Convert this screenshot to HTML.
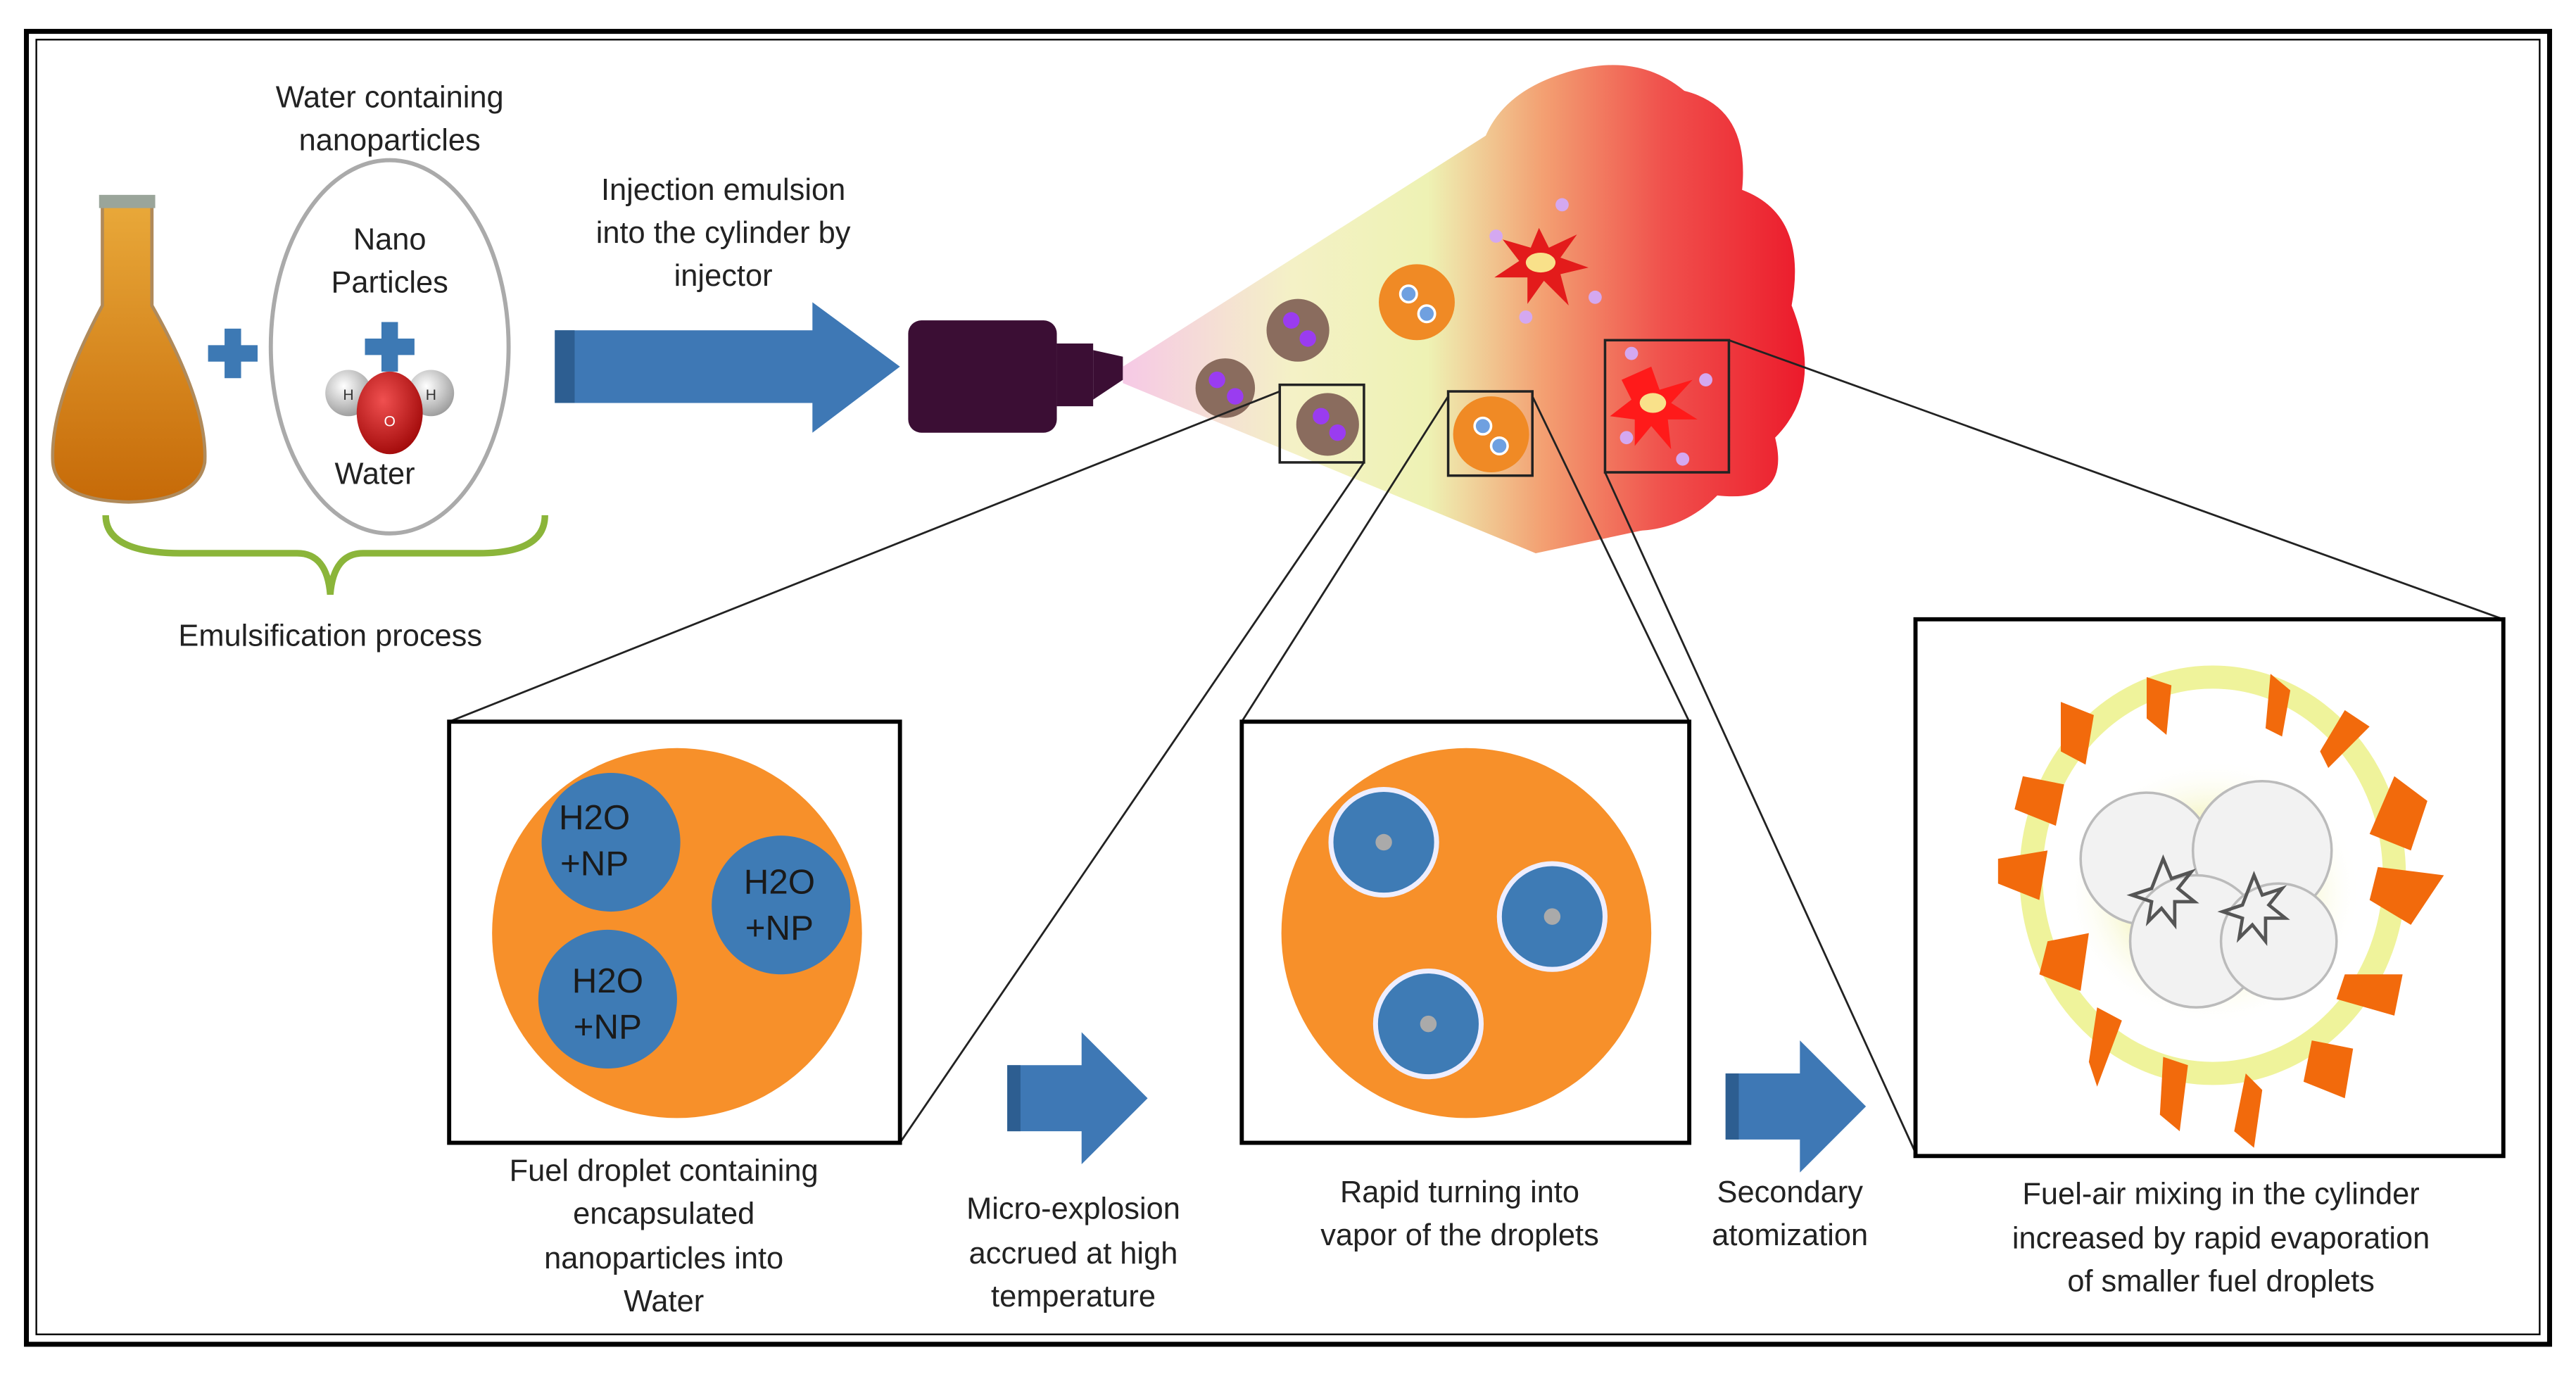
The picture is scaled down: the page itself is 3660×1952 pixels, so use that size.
<!DOCTYPE html>
<html><head><meta charset="utf-8"><style>
html,body{margin:0;padding:0;background:#fff;}
svg{display:block;}
text{font-family:"Liberation Sans",sans-serif;font-size:18.5px;fill:#222;text-anchor:middle;}
</style></head><body>
<svg width="3660" height="1952" viewBox="0 0 1560 832" preserveAspectRatio="none" xmlns="http://www.w3.org/2000/svg">
<defs>
<linearGradient id="spray" gradientUnits="userSpaceOnUse" x1="680" y1="0" x2="1090" y2="0">
<stop offset="0" stop-color="#f6c9e6"/>
<stop offset="0.25" stop-color="#f4f1c6"/>
<stop offset="0.45" stop-color="#eef2b4"/>
<stop offset="0.62" stop-color="#f3a072"/>
<stop offset="0.8" stop-color="#f0504c"/>
<stop offset="1" stop-color="#ec1c2c"/>
</linearGradient>
<linearGradient id="flask" x1="0" y1="0" x2="0" y2="1">
<stop offset="0" stop-color="#e9a93a"/><stop offset="1" stop-color="#c66a08"/>
</linearGradient>
<radialGradient id="o" cx="0.4" cy="0.35" r="0.7"><stop offset="0" stop-color="#f05050"/><stop offset="1" stop-color="#a00808"/></radialGradient>
<radialGradient id="h" cx="0.4" cy="0.35" r="0.7"><stop offset="0" stop-color="#fff"/><stop offset="1" stop-color="#999"/></radialGradient>
<radialGradient id="glow" cx="0.5" cy="0.5" r="0.5"><stop offset="0" stop-color="#fff"/><stop offset="0.6" stop-color="#f7f7d0"/><stop offset="1" stop-color="#fff" stop-opacity="0"/></radialGradient>
</defs>
<rect x="0" y="0" width="1560" height="832" fill="#fff"/>
<rect x="16" y="19" width="1528" height="795" fill="none" stroke="#000" stroke-width="3"/>
<rect x="22" y="24" width="1516" height="784" fill="none" stroke="#000" stroke-width="1"/>

<!-- flask -->
<path d="M62 122 L92 122 L92 185 Q126 245 124 280 Q120 303 78 304 Q34 303 32 280 Q30 245 62 185 Z" fill="url(#flask)" stroke="#b08a5a" stroke-width="2"/>
<rect x="60" y="118" width="34" height="8" fill="#9aa59a"/>
<!-- plus -->
<path d="M136 199h10v10h10v10h-10v10h-10v-10h-10v-10h10z" fill="#3d79b4"/>
<ellipse cx="236" cy="210" rx="72" ry="113" fill="#fff" stroke="#aaa" stroke-width="2.5"/>
<text x="236" y="65">Water containing</text>
<text x="236" y="91">nanoparticles</text>
<text x="236" y="151">Nano</text>
<text x="236" y="177">Particles</text>
<path d="M231 195h10v10h10v10h-10v10h-10v-10h-10v-10h10z" fill="#3d79b4"/>
<circle cx="211" cy="238" r="14" fill="url(#h)"/>
<circle cx="261" cy="238" r="14" fill="url(#h)"/>
<ellipse cx="236" cy="250" rx="20" ry="25" fill="url(#o)"/>
<text x="211" y="242" style="font-size:9px;fill:#333">H</text>
<text x="261" y="242" style="font-size:9px;fill:#333">H</text>
<text x="236" y="258" style="font-size:9px;fill:#fff">O</text>
<text x="227" y="293">Water</text>
<path d="M64 312 Q64 335 110 335 L180 335 Q198 335 200 360 Q202 335 220 335 L290 335 Q330 335 330 312" fill="none" stroke="#8bb53a" stroke-width="4"/>
<text x="200" y="391">Emulsification process</text>

<text x="438" y="121">Injection emulsion</text>
<text x="438" y="147">into the cylinder by</text>
<text x="438" y="173">injector</text>
<path d="M336 200 L492 200 L492 183 L545 222 L492 262 L492 244 L336 244 Z" fill="#3e78b5"/>
<rect x="336" y="200" width="12" height="44" fill="#2d5e91"/>
<!-- injector -->
<rect x="550" y="194" width="90" height="68" rx="8" fill="#3b0e34"/>
<rect x="640" y="208" width="22" height="38" fill="#3b0e34"/>
<path d="M662 212 L680 216 L680 230 L662 242 Z" fill="#3b0e34"/>

<!-- spray + cloud -->
<g fill="url(#spray)">
<path d="M680 222 L900 82 L960 60 L1000 60 L1000 320 L930 335 L680 232 Z"/>
<path d="M895 100 Q900 60 945 45 Q990 30 1020 55 Q1060 65 1055 115 Q1095 130 1085 185 Q1105 235 1075 265 Q1085 305 1040 300 Q1010 330 965 318 Q935 325 915 300 Z"/>
</g>

<!-- droplets -->
<g fill="#8a6c5e"><circle cx="742" cy="235" r="18"/><circle cx="786" cy="200" r="19"/><circle cx="804" cy="257" r="19"/></g>
<g fill="#9a3cf0"><circle cx="737" cy="230" r="5"/><circle cx="748" cy="240" r="5"/><circle cx="782" cy="194" r="5"/><circle cx="792" cy="205" r="5"/><circle cx="800" cy="252" r="5"/><circle cx="810" cy="262" r="5"/></g>
<circle cx="858" cy="183" r="23" fill="#f08a25"/><circle cx="903" cy="263" r="23" fill="#f08a25"/>
<g fill="#6fa0e0" stroke="#fff" stroke-width="1.5"><circle cx="853" cy="178" r="5"/><circle cx="864" cy="190" r="5"/><circle cx="898" cy="258" r="5"/><circle cx="908" cy="270" r="5"/></g>
<path d="M932 138 L938 150 L955 142 L945 156 L962 162 L945 166 L950 185 L935 170 L925 184 L925 168 L905 168 L920 158 L910 145 L927 150 Z" fill="#e31b1b"/>
<ellipse cx="933" cy="159" rx="9" ry="6" fill="#f9e18a"/>
<g fill="#d4a8f0"><circle cx="906" cy="143" r="4"/><circle cx="946" cy="124" r="4"/><circle cx="966" cy="180" r="4"/><circle cx="924" cy="192" r="4"/></g>
<path d="M1000 222 L1005 236 L1025 230 L1012 244 L1028 254 L1010 254 L1012 272 L1000 258 L990 270 L990 254 L975 252 L988 242 L982 230 Z" fill="#ff1a1a"/>
<ellipse cx="1001" cy="244" rx="8" ry="6" fill="#f9e18a"/>
<g fill="#d4a8f0"><circle cx="988" cy="214" r="4"/><circle cx="1033" cy="230" r="4"/><circle cx="985" cy="265" r="4"/><circle cx="1019" cy="278" r="4"/></g>

<!-- small boxes -->
<g fill="none" stroke="#222" stroke-width="1.5">
<rect x="775" y="233" width="51" height="47"/>
<rect x="877" y="237" width="51" height="51"/>
<rect x="972" y="206" width="75" height="80"/>
</g>
<g stroke="#222" stroke-width="1.2">
<line x1="775" y1="237" x2="272" y2="437"/>
<line x1="826" y1="280" x2="545" y2="692"/>
<line x1="877" y1="240" x2="752" y2="437"/>
<line x1="928" y1="240" x2="1023" y2="437"/>
<line x1="972" y1="286" x2="1160" y2="698"/>
<line x1="1047" y1="206" x2="1516" y2="375"/>
</g>

<!-- big box 1 -->
<rect x="272" y="437" width="273" height="255" fill="#fff" stroke="#000" stroke-width="2.5"/>
<circle cx="410" cy="565" r="112" fill="#f7902a"/>
<g fill="#3e7bb5"><circle cx="370" cy="510" r="42"/><circle cx="473" cy="548" r="42"/><circle cx="368" cy="605" r="42"/></g>
<text x="360" y="502" style="font-size:21px;fill:#1a1a1a">H2O</text><text x="360" y="530" style="font-size:21px;fill:#1a1a1a">+NP</text>
<text x="472" y="541" style="font-size:21px;fill:#1a1a1a">H2O</text><text x="472" y="569" style="font-size:21px;fill:#1a1a1a">+NP</text>
<text x="368" y="601" style="font-size:21px;fill:#1a1a1a">H2O</text><text x="368" y="629" style="font-size:21px;fill:#1a1a1a">+NP</text>

<!-- big box 2 -->
<rect x="752" y="437" width="271" height="255" fill="#fff" stroke="#000" stroke-width="2.5"/>
<circle cx="888" cy="565" r="112" fill="#f7902a"/>
<g fill="#3e7bb5" stroke="#eef" stroke-width="3"><circle cx="838" cy="510" r="32"/><circle cx="940" cy="555" r="32"/><circle cx="865" cy="620" r="32"/></g>
<g fill="#aaa"><circle cx="838" cy="510" r="5"/><circle cx="940" cy="555" r="5"/><circle cx="865" cy="620" r="5"/></g>

<!-- big box 3 -->
<rect x="1160" y="375" width="356" height="325" fill="#fff" stroke="#000" stroke-width="2.5"/>
<ellipse cx="1340" cy="530" rx="110" ry="120" fill="none" stroke="#e8ee70" stroke-width="14" opacity="0.7"/>
<ellipse cx="1340" cy="540" rx="90" ry="80" fill="url(#glow)"/>
<g fill="#f2f2f2" stroke="#bbb" stroke-width="1.5"><circle cx="1300" cy="520" r="40"/><circle cx="1370" cy="515" r="42"/><circle cx="1330" cy="570" r="40"/><circle cx="1380" cy="570" r="35"/></g>
<path d="M1310 520 l5 12 12 -4 -8 10 10 8 -12 0 0 14 -8 -10 -8 8 2 -12 -12 -4 12 -4z" fill="none" stroke="#555" stroke-width="2"/>
<path d="M1365 530 l5 12 12 -4 -8 10 10 8 -12 0 0 14 -8 -10 -8 8 2 -12 -12 -4 12 -4z" fill="none" stroke="#555" stroke-width="2"/>
<g fill="#f26a0c">
<path d="M1248 425 l20 8 -5 30 -15 -8z"/>
<path d="M1300 410 l15 5 -3 30 -12 -10z"/>
<path d="M1375 408 l12 10 -5 28 -10 -5z"/>
<path d="M1420 430 l15 10 -25 25 -5 -10z"/>
<path d="M1450 470 l20 15 -10 30 -25 -10z"/>
<path d="M1440 525 l40 5 -20 30 -25 -15z"/>
<path d="M1420 590 l35 0 -5 25 -35 -10z"/>
<path d="M1400 630 l25 5 -5 30 -25 -10z"/>
<path d="M1360 650 l10 10 -5 35 -12 -10z"/>
<path d="M1310 640 l15 5 -5 40 -12 -10z"/>
<path d="M1270 610 l15 8 -15 40 -5 -15z"/>
<path d="M1240 570 l25 -5 -5 35 -25 -10z"/>
<path d="M1210 520 l30 -5 -5 30 -25 -10z"/>
<path d="M1225 470 l25 5 -5 25 -25 -10z"/>
</g>

<!-- small arrows -->
<path d="M610 645 L655 645 L655 625 L695 665 L655 705 L655 685 L610 685 Z" fill="#3e78b5"/>
<rect x="610" y="645" width="8" height="40" fill="#2d5e91"/>
<path d="M1045 650 L1090 650 L1090 630 L1130 670 L1090 710 L1090 690 L1045 690 Z" fill="#3e78b5"/>
<rect x="1045" y="650" width="8" height="40" fill="#2d5e91"/>

<text x="402" y="715">Fuel droplet containing</text>
<text x="402" y="741">encapsulated</text>
<text x="402" y="768">nanoparticles into</text>
<text x="402" y="794">Water</text>
<text x="650" y="738">Micro-explosion</text>
<text x="650" y="765">accrued at high</text>
<text x="650" y="791">temperature</text>
<text x="884" y="728">Rapid turning into</text>
<text x="884" y="754">vapor of the droplets</text>
<text x="1084" y="728">Secondary</text>
<text x="1084" y="754">atomization</text>
<text x="1345" y="729">Fuel-air mixing in the cylinder</text>
<text x="1345" y="756">increased by rapid evaporation</text>
<text x="1345" y="782">of smaller fuel droplets</text>
</svg>
</body></html>
